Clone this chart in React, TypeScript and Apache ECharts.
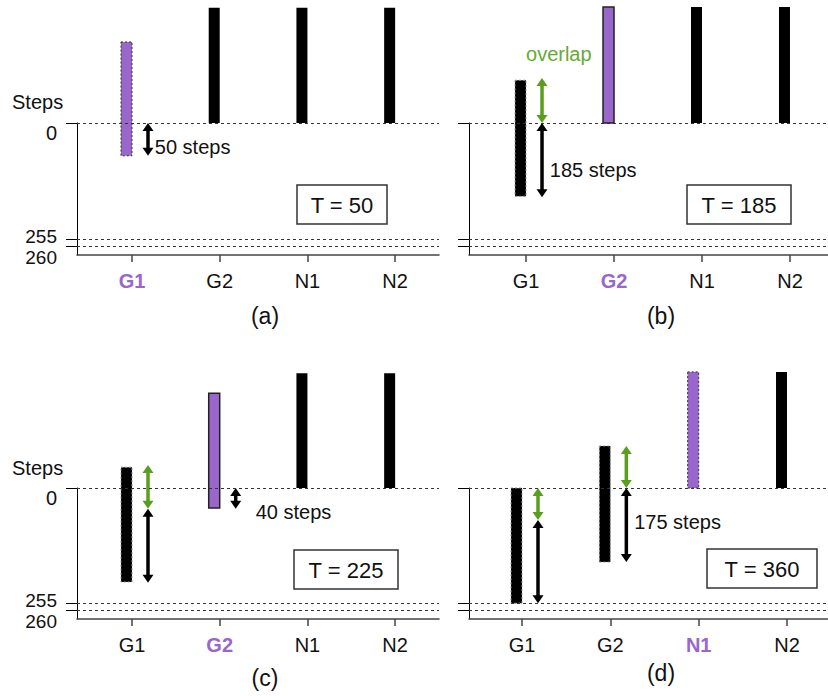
import React, { useEffect, useRef } from "react";
import * as echarts from "echarts";

const FONT = "Liberation Sans, Arial, sans-serif";
const PURPLE = "#9966cc";
const GREEN = "#5a9e1e";
const GREEN_TEXT = "#66aa33";

const categories = ["G1", "G2", "N1", "N2"];
const panelNames = ["(a)", "(b)", "(c)", "(d)"];
const timeLabels = ["T = 50", "T = 185", "T = 225", "T = 360"];
const activeIndex = [0, 1, 1, 2];
// step lines: 0, 255 and the (schematically spaced) 260 line
const stepLines = [0, 255, 271];
const stepLabels = ["0", "255", "260"];

// bar ranges [start, end] in steps, one per category
const barsA = [[-178, 72], [-253, 0], [-253, 0], [-253, 0]];
const barsB = [[-94, 161], [-255, 0], [-255, 0], [-255, 0]];
const barsC = [[-46, 208], [-210, 44], [-254, 0], [-254, 0]];
const barsD = [[0, 255], [-93, 164], [-257, 0], [-257, 0]];
const kindsA = ["activeDashed", "idle", "idle", "idle"];
const kindsB = ["moved", "active", "idle", "idle"];
const kindsC = ["moved", "active", "idle", "idle"];
const kindsD = ["moved", "moved", "activeDashed", "idle"];

// arrows [category, from, to, kind]
const arrowsA = [[0, 0, 72, "shift"]];
const arrowsB = [[0, -99, 0, "overlap"], [0, 0, 163, "shift"]];
const arrowsC = [[0, -51, 46, "overlap"], [0, 46, 210, "shift"], [1, 0, 46, "shift"]];
const arrowsD = [[0, 0, 71, "overlap"], [0, 71, 255, "shift"], [1, -93, 0, "overlap"], [1, 0, 164, "shift"]];

// notes [x, steps, text, kind]
const notesA = [[0.26, 53, "50 steps", "shift"]];
const notesB = [[0.0, -151, "overlap", "overlap"], [0.27, 103, "185 steps", "shift"]];
const notesC = [[1.41, 53, "40 steps", "shift"]];
const notesD = [[1.27, 75, "175 steps", "shift"]];

const panels = [
  { bars: barsA, kinds: kindsA, arrows: arrowsA, notes: notesA, grid: { left: 77, top: 123, width: 362, height: 132 }, xr: [-0.627, 3.5], labels: true },
  { bars: barsB, kinds: kindsB, arrows: arrowsB, notes: notesB, grid: { left: 469, top: 123, width: 359, height: 132 }, xr: [-0.648, 3.432], labels: false },
  { bars: barsC, kinds: kindsC, arrows: arrowsC, notes: notesC, grid: { left: 77, top: 488, width: 362, height: 131 }, xr: [-0.627, 3.5], labels: true },
  { bars: barsD, kinds: kindsD, arrows: arrowsD, notes: notesD, grid: { left: 469, top: 488, width: 359, height: 131 }, xr: [-0.6, 3.464], labels: false },
];

function barStyle(kind: string) {
  switch (kind) {
    case "activeDashed":
      return { fill: PURPLE, stroke: "#333", lineWidth: 1, lineDash: [2, 2] };
    case "active":
      return { fill: PURPLE, stroke: "#222", lineWidth: 1.5 };
    case "moved":
      return { fill: "#000", stroke: "#999", lineWidth: 1, lineDash: [2, 2] };
    default:
      return { fill: "#000" };
  }
}

const stepFormatter = (v: number) => {
  const i = stepLines.indexOf(v);
  return i === 0 ? `{zero|${stepLabels[i]}}` : `{n|${stepLabels[i]}}`;
};

export default function App() {
  const ref = useRef<HTMLDivElement>(null);
  useEffect(() => {
    if (!ref.current) return;
    const chart = echarts.init(ref.current, null, { renderer: "svg" });
    const grid: any[] = [];
    const xAxis: any[] = [];
    const yAxis: any[] = [];
    const series: any[] = [];
    panels.forEach((p, pi) => {
      grid.push(p.grid);
      xAxis.push({
        type: "value",
        gridIndex: pi,
        min: p.xr[0],
        max: p.xr[1],
        splitLine: { show: false },
        axisLine: { show: true, onZero: false, lineStyle: { color: "#444", width: 1.5 } },
        axisTick: { show: true, customValues: [0, 1, 2, 3], length: 7, lineStyle: { color: "#444", width: 1.5 } },
        axisLabel: {
          show: true,
          customValues: [0, 1, 2, 3],
          margin: 16,
          hideOverlap: false,
          showMinLabel: true,
          showMaxLabel: true,
          formatter: (v: number) => {
            const i = Math.round(v);
            return i === activeIndex[pi] ? `{hi|${categories[i]}}` : `{n|${categories[i]}}`;
          },
          rich: {
            hi: { color: PURPLE, fontWeight: "bold", fontSize: 20, fontFamily: FONT },
            n: { color: "#111", fontSize: 20, fontFamily: FONT },
          },
        },
      });
      const yIndex = yAxis.length;
      // main axis: line, ticks, and the "255" label just above its line
      yAxis.push({
        type: "value",
        gridIndex: pi,
        position: "left",
        inverse: true,
        min: 0,
        max: 290,
        splitLine: { show: false },
        axisLine: { show: true, onZero: false, lineStyle: { color: "#000", width: 1 } },
        axisTick: { show: true, customValues: stepLines, length: 11, lineStyle: { color: "#000", width: 1 } },
        axisLabel: {
          show: p.labels,
          customValues: [stepLines[1]],
          margin: 20,
          hideOverlap: false,
          formatter: (v: number) => `{up|${stepLabels[stepLines.indexOf(v)]}}`,
          rich: {
            up: { fontSize: 19, fontFamily: FONT, color: "#111", lineHeight: 16, padding: [0, 0, 6, 0] },
          },
        },
      });
      if (p.labels) {
        // label-only axis: "0" and "260" sit just below their lines
        yAxis.push({
          type: "value",
          gridIndex: pi,
          position: "left",
          offset: 0,
          inverse: true,
          min: 0,
          max: 290,
          splitLine: { show: false },
          axisLine: { show: false, onZero: false },
          axisTick: { show: false },
          axisLabel: {
            show: true,
            customValues: [stepLines[0], stepLines[2]],
            margin: 20,
            hideOverlap: false,
            verticalAlign: "top",
            formatter: stepFormatter,
            rich: {
              zero: { fontSize: 20, fontFamily: FONT, color: "#111", lineHeight: 20 },
              n: { fontSize: 19, fontFamily: FONT, color: "#111", lineHeight: 23 },
            },
          },
        });
      }
      series.push({
        type: "line",
        xAxisIndex: pi,
        yAxisIndex: yIndex,
        data: [],
        silent: true,
        markLine: {
          silent: true,
          symbol: ["none", "none"],
          label: { show: false },
          lineStyle: { type: [3, 3], color: "#333", width: 1 },
          data: stepLines.map((v) => ({ yAxis: v })),
        },
      });
      series.push({
        type: "custom",
        xAxisIndex: pi,
        yAxisIndex: yIndex,
        clip: false,
        silent: true,
        encode: { x: 0, y: [1, 2] },
        data: p.bars.map((b, i) => [i, b[0], b[1]]),
        renderItem: (params: any, api: any) => {
          const t = api.coord([api.value(0), api.value(1)]);
          const b = api.coord([api.value(0), api.value(2)]);
          return {
            type: "rect",
            shape: { x: t[0] - 11, y: t[1], width: 11, height: b[1] - t[1] },
            style: barStyle(p.kinds[params.dataIndex]),
          };
        },
      });
      series.push({
        type: "custom",
        xAxisIndex: pi,
        yAxisIndex: yIndex,
        clip: false,
        silent: true,
        encode: { x: 0, y: [1, 2] },
        data: p.arrows.map((a) => [a[0], a[1], a[2]]),
        renderItem: (params: any, api: any) => {
          const kind = p.arrows[params.dataIndex][3];
          const c = kind === "overlap" ? GREEN : "#000";
          const t = api.coord([api.value(0), api.value(1)]);
          const b = api.coord([api.value(0), api.value(2)]);
          const x = t[0] + 16;
          const y1 = t[1];
          const y2 = b[1];
          return {
            type: "group",
            children: [
              { type: "line", shape: { x1: x, y1: y1 + 6, x2: x, y2: y2 - 6 }, style: { stroke: c, lineWidth: 3.5 } },
              { type: "polygon", shape: { points: [[x, y1], [x - 5.5, y1 + 8], [x + 5.5, y1 + 8]] }, style: { fill: c } },
              { type: "polygon", shape: { points: [[x, y2], [x - 5.5, y2 - 8], [x + 5.5, y2 - 8]] }, style: { fill: c } },
            ],
          };
        },
      });
      series.push({
        type: "custom",
        xAxisIndex: pi,
        yAxisIndex: yIndex,
        clip: false,
        silent: true,
        encode: { x: 0, y: 1 },
        data: p.notes.map((n) => [n[0], n[1]]),
        renderItem: (params: any, api: any) => {
          const n = p.notes[params.dataIndex];
          const pt = api.coord([api.value(0), api.value(1)]);
          return {
            type: "text",
            x: pt[0],
            y: pt[1],
            style: {
              text: n[2],
              fill: n[3] === "overlap" ? GREEN_TEXT : "#111",
              fontSize: 20,
              fontFamily: FONT,
              align: "left",
              verticalAlign: "middle",
            },
          };
        },
      });
    });

    const txt = (text: string, x: number, y: number, size: number, align = "center") => ({
      type: "text",
      x,
      y,
      silent: true,
      style: {
        text,
        fontSize: size,
        fontFamily: FONT,
        fill: "#111",
        align,
        verticalAlign: "middle",
        textAlign: align,
        textVerticalAlign: "middle",
      },
    });
    const boxes = [
      [297, 185, 90, 39],
      [687, 185, 104, 39],
      [294, 550, 104, 39],
      [707, 549, 110, 39],
    ];
    const graphic: any[] = [];
    boxes.forEach((bx, i) => {
      graphic.push({
        type: "rect",
        silent: true,
        shape: { x: bx[0], y: bx[1], width: bx[2], height: bx[3] },
        style: { fill: "#fff", stroke: "#333", lineWidth: 1.5 },
      });
      graphic.push(txt(timeLabels[i], bx[0] + bx[2] / 2, bx[1] + bx[3] / 2 + 1, 22));
    });
    graphic.push(txt("Steps", 12, 102, 20, "left"));
    graphic.push(txt("Steps", 12, 468, 20, "left"));
    const titlePos = [[265, 316], [661, 316], [265, 678], [661, 673]];
    titlePos.forEach((tp, i) => graphic.push(txt(panelNames[i], tp[0], tp[1], 23)));

    chart.setOption({
      animation: false,
      backgroundColor: "#fff",
      textStyle: { fontFamily: FONT },
      grid,
      xAxis,
      yAxis,
      series,
      graphic,
    });
    return () => chart.dispose();
  }, []);
  return <div ref={ref} style={{ position: "absolute", left: 0, top: 0, width: 828, height: 696 }} />;
}
